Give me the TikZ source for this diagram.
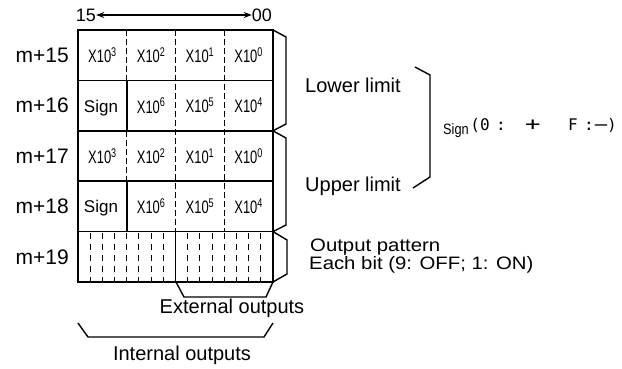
\documentclass[tikz,border=0pt]{standalone}
\usepackage{fontspec}
\setmainfont{Liberation Sans}
\newfontfamily\codefont{DejaVu Sans Mono}
\usetikzlibrary{arrows.meta,positioning,calc}

\begin{document}
\begin{tikzpicture}[x=1pt, y=-1pt,
    frame/.style={line width=1.5pt},
    dgrid/.style={line width=0.9pt, dash pattern=on 6pt off 3pt},
    bitgrid/.style={line width=0.9pt, dash pattern=on 6pt off 5pt},
    brk/.style={line width=1.4pt, line join=miter},
    cell/.style={inner sep=0pt, font=\fontsize{18}{18}\selectfont},
    rowlab/.style={inner sep=0pt, anchor=east, font=\fontsize{21}{21}\selectfont},
    lbl/.style={inner sep=0pt, font=\fontsize{20}{20}\selectfont},
    note/.style={inner sep=0pt, anchor=base west, font=\fontsize{18}{18}\selectfont},
    >={Stealth[length=8pt,width=6pt]}
  ]
  \useasboundingbox (0,0) rectangle (622,368);

  % Bit order
  \node[lbl, font=\fontsize{18}{18}\selectfont] (b15) at (86,15) {15};
  \node[lbl, font=\fontsize{18}{18}\selectfont] (b00) at (262,15) {00};
  \draw[<->, line width=1.2pt] (b15) -- (b00);

  % Table
  \draw[frame] (78,30) rectangle (273,282);
  \foreach \y in {80.4,130.8,181.2,231.6}
    \draw[frame] (78,\y) -- (273,\y);
  \draw[dgrid] (126.75,30) -- (126.75,80.4);
  \draw[dgrid] (126.75,130.8) -- (126.75,181.2);
  \draw[frame] (126.75,80.4) -- (126.75,130.8);
  \draw[frame] (126.75,181.2) -- (126.75,231.6);
  \draw[dgrid] (175.5,30) -- (175.5,231.6);
  \draw[dgrid] (224.25,30) -- (224.25,231.6);
  \foreach \k in {1,...,15}
    \draw[bitgrid] ({78+\k*12.1875},233) -- ({78+\k*12.1875},281);
  \draw[frame] (175.5,231.6) -- (175.5,282);

  % Row labels
  \foreach \row/\y in {15/55.2,16/105.6,17/156,18/206.4,19/256.8}
    \node[rowlab] (m\row) at (69,\y) {m+\row};

  % Cells
  \foreach \row/\y in {15/55.2,17/156}
    \foreach \col/\x/\e in {a/102.4/3,b/151.1/2,c/199.9/1,d/248.6/0}
      \node[cell] (c\row\col) at (\x,\y) {\scalebox{0.72}[1]{X10\textsuperscript{\e}}};
  \foreach \row/\y in {16/105.6,18/206.4}{
    \node[cell, font=\fontsize{17}{17}\selectfont] (c\row a) at (101,\y+2) {Sign};
    \foreach \col/\x/\e in {b/151.1/6,c/199.9/5,d/248.6/4}
      \node[cell] (c\row\col) at (\x,\y) {\scalebox{0.72}[1]{X10\textsuperscript{\e}}};
  }

  % Braces
  \draw[brk] (273,30) -- (286,37) -- (286,124) -- (273,130.8);
  \draw[brk] (273,130.8) -- (286,138) -- (286,225) -- (273,231.6);
  \draw[brk] (273,231.6) -- (287,240) -- (287,274) -- (273,282);
  \draw[brk] (176,282) -- (184,297) -- (266,297) -- (273,282);
  \draw[brk] (78,323) -- (88,337) -- (264,337) -- (273,323);
  \draw[brk] (415,67) -- (430,75) -- (430,177) -- (413,188);

  % Labels
  \node[lbl, anchor=base west] (lower) at (305,92) {Lower limit};
  \node[lbl, anchor=base west] (upper) at (305,191) {Upper limit};
  \node[lbl, anchor=base west, font=\fontsize{15}{15}\selectfont] (sign) at (443,134) {\scalebox{0.85}[1]{Sign}};
  \node[lbl, anchor=base west, font=\codefont\fontsize{16}{16}\selectfont] (code) at (470.2,130)
    {(0\hspace{6.4pt}:\hspace{19.5pt}\scalebox{1.6}[1.15]{+}\hspace{27.5pt}F\hspace{6.4pt}:\scalebox{1.5}[1]{−}\hspace{-1pt})};
  \node[note] (pat) at (310,251.5) {\scalebox{1.13}[1]{Output pattern}};
  \node[note] (bits) at (309,269.5) {\scalebox{1.13}[1]{Each bit (9: OFF; 1: ON)}};
  \node[lbl] (ext) at (232,308) {External outputs};
  \node[lbl] (int) at (182,355) {Internal outputs};
\end{tikzpicture}
\end{document}
